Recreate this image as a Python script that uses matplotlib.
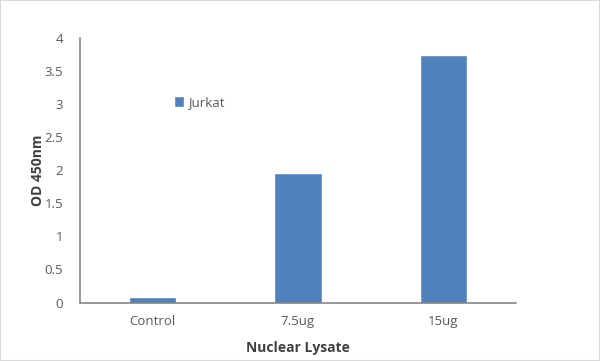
import matplotlib.pyplot as plt
from matplotlib.patches import Rectangle

categories = ["Control", "7.5ug", "15ug"]
jurkat = [0.07, 1.95, 3.73]
y_ticks = [0, 0.5, 1, 1.5, 2, 2.5, 3, 3.5, 4]
y_tick_labels = ["0", "0.5", "1", "1.5", "2", "2.5", "3", "3.5", "4"]

plt.rcParams['font.family'] = ['Open Sans', 'DejaVu Sans']
gray = '#595959'

fig = plt.figure(figsize=(6, 3.61), dpi=100)
ax = fig.add_axes([0.1333, 0.162, 0.7267, 0.7327])

x = range(len(categories))
ax.bar(x, jurkat, width=0.31, color='#4F81BD', edgecolor='#6A96CC',
       linewidth=0.6, label='Jurkat', zorder=2)

ax.set_xlim(-0.5, 2.5)
ax.set_ylim(0, 4)
ax.set_yticks(y_ticks)
ax.set_yticklabels(y_tick_labels)
ax.set_xticks(list(x))
ax.set_xticklabels(categories)
ax.tick_params(axis='both', length=0, colors=gray, labelsize=9.5)
ax.tick_params(axis='y', pad=12)
ax.tick_params(axis='x', pad=9)

for s in ['top', 'right']:
    ax.spines[s].set_visible(False)
for s in ['left', 'bottom']:
    ax.spines[s].set_color('#868686')
    ax.spines[s].set_linewidth(1.2)

ax.set_ylabel('OD 450nm', fontsize=10, fontweight='bold', color='#404040', labelpad=0)
ax.set_xlabel('Nuclear Lysate', fontsize=10, fontweight='bold', color='#404040', labelpad=9)

ax.legend(loc='upper left', bbox_to_anchor=(0.19, 0.825), frameon=False,
          fontsize=9.5, labelcolor=gray, handlelength=0.6, handleheight=0.6,
          handletextpad=0.4)

fig.patches.append(Rectangle((0, 0), 1, 1, transform=fig.transFigure, fill=False,
                             edgecolor='#D9D9D9', linewidth=1.5))

fig.savefig('out.png', dpi=100)
